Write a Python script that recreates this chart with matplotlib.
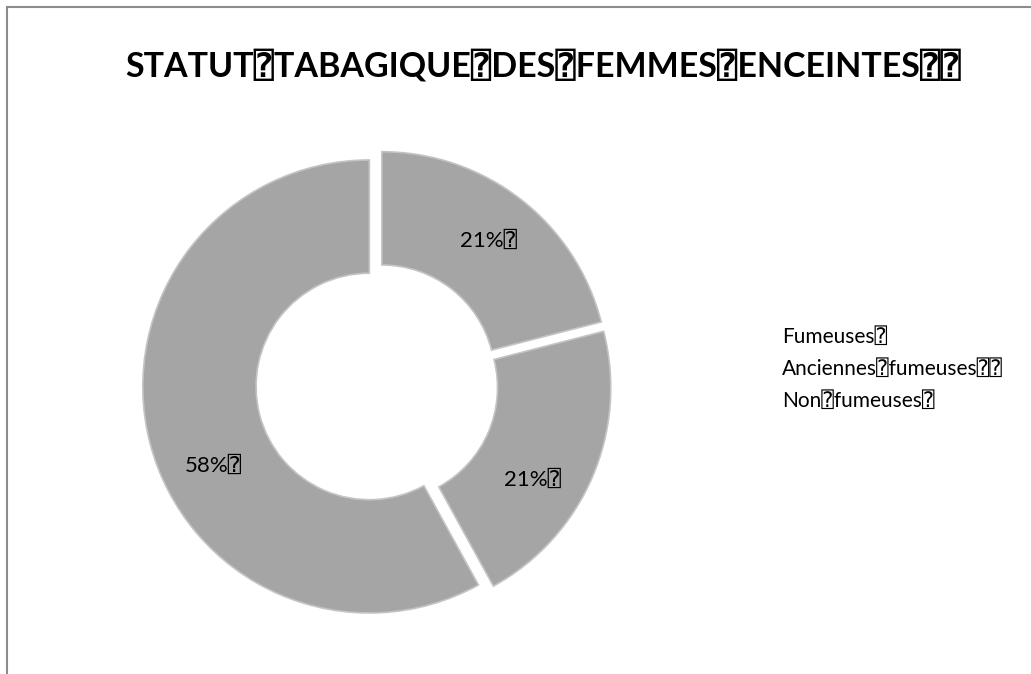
import numpy as np
import matplotlib.pyplot as plt
from matplotlib.patches import Rectangle

# data
labels = ["Fumeuses\u2370", "Anciennes\u2370fumeuses\u2370\u2370", "Non\u2370fumeuses\u2370"]
values = [21, 21, 58]
title = "STATUT\u2370TABAGIQUE\u2370DES\u2370FEMMES\u2370ENCEINTES\u2370\u2370"

plt.rcParams['font.family'] = ['Lato', 'DejaVu Sans', 'DejaVu Sans Mono']

W, H = 1031, 674
fig = plt.figure(figsize=(W / 100, H / 100), dpi=100)

# outer chart border (only top and left visible)
fig.patches.append(Rectangle((7 / W, -0.2), 2, (H - 7) / H + 0.2, transform=fig.transFigure,
                             fill=False, edgecolor="#8c8c8c", linewidth=1.5))

# donut: centre (377, 384.5) px, outer radius 226.5 px
cx, cy, R = 377, 384.5, 226.5
ax = fig.add_axes([(cx - R) / W, (H - cy - R) / H, 2 * R / W, 2 * R / H])

wedges, texts, autotexts = ax.pie(
    values, startangle=90, counterclock=False, radius=1.0,
    explode=[0.035, 0.035, 0.035],
    colors=["#a5a5a5"] * 3,
    wedgeprops=dict(width=0.5, edgecolor="#c4c4c4", linewidth=1.2),
    autopct=lambda p: f"{p:.0f}%\u2370", pctdistance=0.77,
    textprops=dict(fontsize=16, color="black"))
for w in wedges:
    w.set_clip_on(False)

# the source nudges the last two labels off their wedge's mid angle
for t, rot in zip(autotexts, [0, -8, 12]):
    x, y = t.get_position()
    a = np.deg2rad(rot)
    t.set_position((x * np.cos(a) - y * np.sin(a), x * np.sin(a) + y * np.cos(a)))

ax.set_xlim(-1, 1)
ax.set_ylim(-1, 1)
ax.axis("off")

fig.text(543 / W, 1 - 66 / H, title, ha="center", va="center",
         fontsize=24.5, fontweight="bold")

leg = fig.legend([plt.Rectangle((0, 0), 1, 1, fc="none", ec="none")] * 3, labels,
                 loc="upper left", bbox_to_anchor=(763 / W, 1 - 308 / H),
                 frameon=False, handlelength=0, handletextpad=0,
                 fontsize=15, labelspacing=0.58)

fig.savefig("out.png", dpi=100)
